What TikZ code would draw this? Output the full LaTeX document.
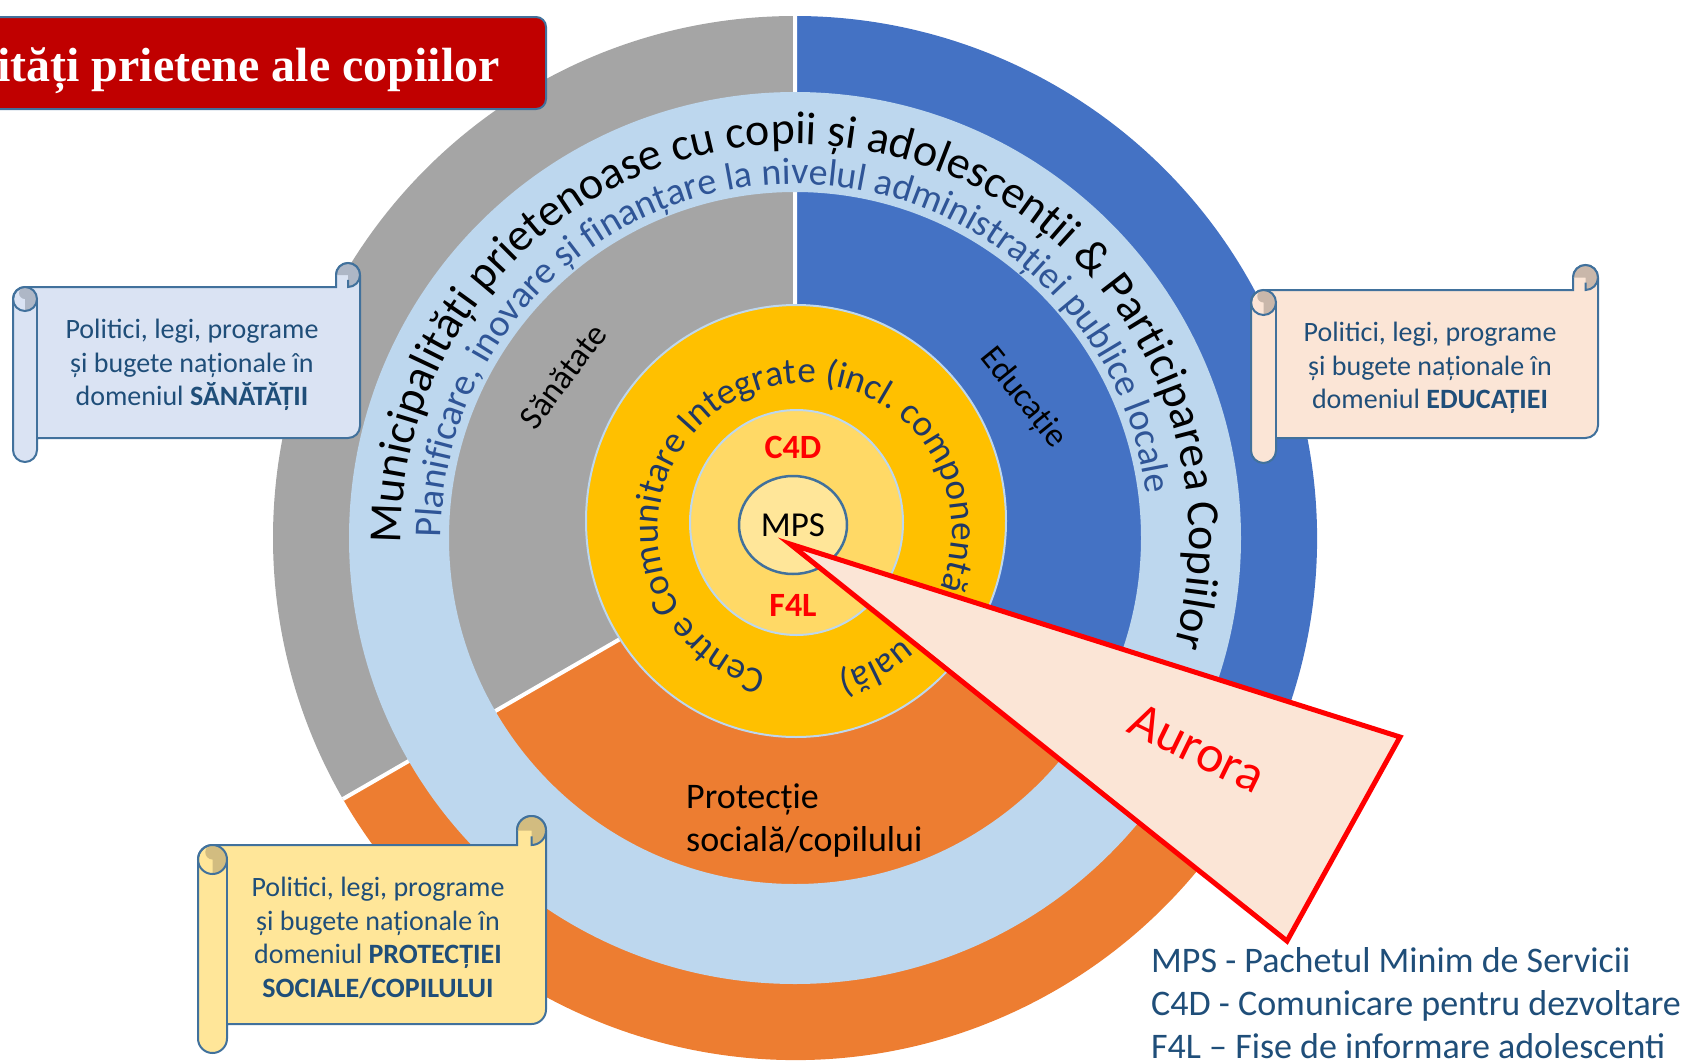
\documentclass[tikz,border=0pt]{standalone}
\usepackage{fontspec}
\setmainfont{Carlito}
\newfontfamily\titlefont{Liberation Serif}
\usetikzlibrary{decorations.text,shapes.geometric}
\definecolor{cgray}{HTML}{A5A5A5}
\definecolor{cblue}{HTML}{4472C4}
\definecolor{corange}{HTML}{ED7D31}
\definecolor{clblue}{HTML}{BDD7EE}
\definecolor{cyellow}{HTML}{FFC000}
\definecolor{clyellow}{HTML}{FFD966}
\definecolor{cmps}{HTML}{FFE699}
\definecolor{coutline}{HTML}{41719C}
\definecolor{cpeach}{HTML}{FBE5D6}
\definecolor{ctitle}{HTML}{C00000}
\definecolor{cnavy}{HTML}{1F4E79}
\definecolor{cringblue}{HTML}{2F5597}
\definecolor{cdeep}{HTML}{203864}
\definecolor{cscrA}{HTML}{DAE3F3}
\definecolor{cscrAd}{HTML}{AEB7C6}
\definecolor{cscrB}{HTML}{FBE5D6}
\definecolor{cscrBd}{HTML}{C9B7AA}
\definecolor{cscrC}{HTML}{FFE699}
\definecolor{cscrCd}{HTML}{D2BC80}
\definecolor{cred}{HTML}{FF0000}

\newcommand\myfs[2]{\fontsize{#1}{#2}\selectfont}

\tikzset{
 scrollline/.style={draw=coutline,line width=2pt},
 lbl/.style={inner sep=0pt,text=black},
 scrolltext/.style={inner sep=0pt,align=center,text=cnavy,font=\myfs{28}{33.5}},
 legendtext/.style={inner sep=0pt,anchor=base west,text=cnavy,font=\myfs{36}{43}},
 redbold/.style={inner sep=0pt,text=cred,font=\myfs{34}{40}\bfseries},
}

% horizontal scroll: #1 left, #2 top, #3 right, #4 bottom (pixel coords, y down), #5 roll size, #6 fill, #7 dark fill
\newcommand\myscroll[7]{%
 \pgfmathsetmacro\scL{#1}%
 \pgfmathsetmacro\scT{-(#2)}%
 \pgfmathsetmacro\scR{#3}%
 \pgfmathsetmacro\scB{-(#4)}%
 \pgfmathsetmacro\scC{#5}%
 \pgfmathsetmacro\scH{(#5)/2}%
 \pgfmathsetmacro\scQ{(#5)/4}%
 \filldraw[fill=#6,scrollline] (\scL,\scT-1.5*\scC) arc[start angle=180,end angle=90,radius=\scH pt] -- (\scR-\scC,\scT-\scC) -- (\scR-\scC,\scT-\scH) arc[start angle=180,end angle=0,radius=\scH pt] -- (\scR,\scB+1.5*\scC) arc[start angle=0,end angle=-90,radius=\scH pt] -- (\scL+\scC,\scB+\scC) -- (\scL+\scC,\scB+\scH) arc[start angle=0,end angle=-180,radius=\scH pt] -- cycle;
 \fill[#7] (\scL+\scH,\scT-2*\scC) arc[start angle=-90,end angle=90,radius=\scH pt] arc[start angle=90,end angle=270,radius=\scQ pt] -- cycle;
 \draw[scrollline] (\scL+\scH,\scT-1.5*\scC) circle[radius=\scH pt];
 \draw[scrollline] (\scL+\scC,\scT-1.5*\scC) -- (\scL+\scC,\scB+\scC);
 \fill[#7] (\scR-\scH,\scT-\scH) -- (\scR-\scC,\scT-\scH) arc[start angle=180,end angle=-90,radius=\scH pt] -- cycle;
 \draw[scrollline] (\scR,\scT-\scH) arc[start angle=0,end angle=-90,radius=\scH pt] -- (\scR-\scH,\scT-0.7*\scC);
 \draw[scrollline] (\scR-\scC,\scT-\scH) arc[start angle=180,end angle=0,radius=\scH pt];
}

\begin{document}
\begin{tikzpicture}[x=1pt,y=1pt]
\useasboundingbox (0,0) rectangle (1687,-1063);
\coordinate (P) at (795,-538);
\coordinate (Y) at (805,-530);

% outer pie
\fill[cgray] (P) -- ++(90:522) arc[start angle=90,end angle=210,radius=522pt] -- cycle;
\fill[corange] (P) -- ++(210:522) arc[start angle=210,end angle=330,radius=522pt] -- cycle;
\fill[cblue] (P) -- ++(-30:522) arc[start angle=-30,end angle=90,radius=522pt] -- cycle;
\draw[white,line width=4pt] (P) -- ++(90:522) (P) -- ++(210:522) (P) -- ++(330:522);

% light blue ring
\fill[clblue,even odd rule] (P) circle[radius=446pt] (P) circle[radius=346pt];

% ring texts
\path[decorate,decoration={text along path,text align=center,text={|\myfs{46}{50}\color{black}|Municipalități prietenoase cu copii și adolescenții {\&} Participarea Copiilor}}] (P) ++(202.5:394) arc[start angle=202.5,end angle=-37.5,radius=394pt];
\path[decorate,decoration={text along path,text align=center,text={|\myfs{38}{40}\color{cringblue}|Planificare, inovare și finanțare la nivelul administrației publice locale}}] (P) ++(203.5:354) arc[start angle=203.5,end angle=-16.5,radius=354pt];

% sector labels
\node[lbl,rotate=53,font=\myfs{34}{40}] (san) at (563,-376) {Sănătate};
\node[lbl,rotate=-51,font=\myfs{34}{40}] (edu) at (1023,-398) {Educație};
\node[lbl,anchor=base west,font=\myfs{36}{43}] (prot1) at (686,-808) {Protecție};
\node[lbl,anchor=base west,font=\myfs{36}{43}] (prot2) at (686,-851) {socială/copilului};

% yellow circle
\filldraw[fill=cyellow,draw=clblue,line width=2pt] (796,-521) ellipse[x radius=210pt,y radius=216pt];
\path[decorate,decoration={text along path,text align=left,text={|\myfs{37}{40}\color{cdeep}|Centre Comunitare Integrate (incl. componentă}}] (Y) ++(255:147) arc[start angle=255,end angle=-80,radius=147pt];
\path[decorate,decoration={text along path,text align=right,text={|\myfs{37}{40}\color{cdeep}|uală)}}] (Y) ++(-20:147) arc[start angle=-20,end angle=-77,radius=147pt];

% inner circle
\filldraw[fill=clyellow,draw=clblue,line width=2pt] (796.5,-522.5) ellipse[x radius=106.5pt,y radius=112.5pt];
\node[redbold] (c4d) at (793,-447) {C4D};
\node[redbold] (f4l) at (793,-605) {F4L};
\node[draw=coutline,line width=2.5pt,fill=cmps,ellipse,minimum width=108pt,minimum height=98pt,inner sep=0pt,font=\myfs{35}{40}] (mps) at (793,-525) {MPS};

% Aurora pointer
\coordinate (apex) at (790,-544);
\coordinate (tipR) at (1400,-737);
\coordinate (tipB) at (1287,-941);
\filldraw[fill=cpeach,draw=cred,line width=5pt,line join=miter] (apex) -- (tipR) -- (tipB) -- cycle;
\node[inner sep=0pt,rotate=-26,text=cred,font=\myfs{52}{58}] (aurora) at (1197,-748) {Aurora};

% scrolls
\myscroll{13}{263}{360}{462}{24}{cscrA}{cscrAd}
\node[scrolltext] (s1) at (192,-365) {Politici, legi, programe\\și bugete naționale în\\domeniul \textbf{SĂNĂTĂȚII}};
\myscroll{1251}{265}{1598}{463}{25}{cscrB}{cscrBd}
\node[scrolltext] (s2) at (1430,-368) {Politici, legi, programe\\și bugete naționale în\\domeniul \textbf{EDUCAȚIEI}};
\myscroll{198}{816}{546}{1053}{29}{cscrC}{cscrCd}
\node[scrolltext] (s3) at (378,-938) {Politici, legi, programe\\și bugete naționale în\\domeniul \textbf{PROTECȚIEI}\\\textbf{SOCIALE/COPILULUI}};

% title
\node[draw=coutline,line width=2pt,fill=ctitle,rounded corners=10pt,minimum width=575pt,minimum height=92pt,anchor=north west,inner sep=0pt] (titlebox) at (-30,-16) {};
\node[anchor=base east,inner sep=0pt,text=white,font=\titlefont\bfseries\myfs{48}{56}] (titletext) at (500,-81) {ități prietene ale copiilor};

% legend
\node[legendtext] (l1) at (1151,-972) {MPS - Pachetul Minim de Servicii};
\node[legendtext] (l2) at (1151,-1015) {C4D - Comunicare pentru dezvoltare};
\node[legendtext] (l3) at (1151,-1058) {F4L – Fise de informare adolescenti};
\end{tikzpicture}
\end{document}
